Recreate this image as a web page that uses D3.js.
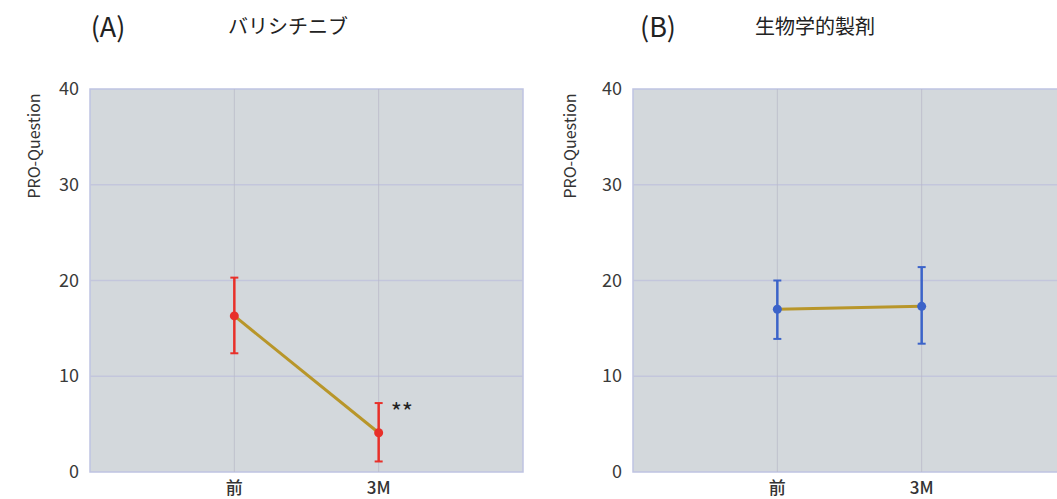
<!DOCTYPE html>
<html>
<head>
<meta charset="utf-8">
<script src="https://cdn.jsdelivr.net/npm/d3@7"></script>
<style>
  body { margin: 0; background: #fff; }
  text { font-family: "Noto Sans CJK JP", "Noto Sans", sans-serif; }
</style>
</head>
<body>
<div id="root"></div>
<script>
var width = 1057;
var height = 499;

// data
var categories = ['前', '3M'];
var yTicks = [0, 10, 20, 30, 40];
var meanA = [16.3, 4.1];
var upperA = [20.3, 7.2];
var lowerA = [12.4, 1.1];
var meanB = [17.0, 17.3];
var upperB = [20.0, 21.4];
var lowerB = [13.9, 13.4];

var svg = d3.select('#root')
    .append('svg')
    .attr('width', width).attr('height', height);

function drawPanel(opts) {
    var left = opts.left, top = 89, w = 433, h = 383;
    var g = svg.append('g').attr('transform', 'translate(' + left + ',' + top + ')');

    var xScale = d3.scaleLinear().domain([0, 3]).range([0, w]);
    var yScale = d3.scaleLinear().domain([0, 40]).range([h, 0]);

    g.append('rect')
        .attr('width', w).attr('height', h)
        .attr('fill', '#d3d8dc')
        .attr('stroke', '#bfc3e2').attr('stroke-width', 1.5);

    g.selectAll('.hgrid')
        .data(yTicks.slice(1, 4)).enter()
        .append('line')
        .attr('x1', 0).attr('x2', w)
        .attr('y1', function (d) { return yScale(d); })
        .attr('y2', function (d) { return yScale(d); })
        .attr('stroke', '#c3c6dc').attr('stroke-width', 1.5);

    g.selectAll('.vgrid')
        .data([1, 2]).enter()
        .append('line')
        .attr('x1', function (d) { return xScale(d); })
        .attr('x2', function (d) { return xScale(d); })
        .attr('y1', 0).attr('y2', h)
        .attr('stroke', '#b9bac8').attr('stroke-width', 0.8);

    // y tick labels
    g.selectAll('.ylab')
        .data(yTicks).enter()
        .append('text')
        .attr('x', -11)
        .attr('y', function (d) { return yScale(d) + 6; })
        .attr('text-anchor', 'end')
        .attr('font-family', '"Open Sans", sans-serif')
        .attr('font-size', 18)
        .attr('fill', '#3a3a3a')
        .text(function (d) { return d; });

    // x tick labels
    g.selectAll('.xlab')
        .data(categories).enter()
        .append('text')
        .attr('x', function (d, i) { return xScale(i + 1); })
        .attr('y', h + 22)
        .attr('text-anchor', 'middle')
        .attr('font-size', 17)
        .attr('font-weight', 500)
        .attr('fill', '#333')
        .text(function (d) { return d; });

    // y axis title
    g.append('text')
        .attr('transform', 'translate(' + opts.titleX + ',57) rotate(-90)')
        .attr('text-anchor', 'middle')
        .attr('font-family', '"Liberation Sans Narrow", "DejaVu Sans Condensed", sans-serif')
        .attr('font-size', 16)
        .attr('fill', '#333')
        .text('PRO-Question');

    var mean = opts.mean, upper = opts.upper, lower = opts.lower;
    var idx = d3.range(categories.length);

    var line = d3.line()
        .x(function (i) { return xScale(i + 1); })
        .y(function (i) { return yScale(mean[i]); });
    g.append('path')
        .datum(idx)
        .attr('d', line)
        .attr('fill', 'none')
        .attr('stroke', '#b8962a')
        .attr('stroke-width', 3);

    idx.forEach(function (i) {
        var cx = xScale(i + 1);
        g.append('line')
            .attr('x1', cx).attr('x2', cx)
            .attr('y1', yScale(upper[i])).attr('y2', yScale(lower[i]))
            .attr('stroke', opts.color).attr('stroke-width', 2.5);
        [upper[i], lower[i]].forEach(function (v) {
            g.append('line')
                .attr('x1', cx - 4).attr('x2', cx + 4)
                .attr('y1', yScale(v)).attr('y2', yScale(v))
                .attr('stroke', opts.color).attr('stroke-width', 2);
        });
        g.append('circle')
            .attr('cx', cx).attr('cy', yScale(mean[i]))
            .attr('r', 4.5)
            .attr('fill', opts.color);
    });

    if (opts.star) {
        g.append('text')
            .attr('x', xScale(2) + 12)
            .attr('y', yScale(upper[1]) + 18)
            .attr('font-family', '"DejaVu Sans", sans-serif')
            .attr('font-size', 24)
            .attr('fill', '#222')
            .text('**');
    }

    svg.append('text')
        .attr('x', opts.labelX).attr('y', 37)
        .attr('text-anchor', 'middle')
        .attr('font-family', '"Open Sans", sans-serif')
        .attr('font-size', 27)
        .attr('fill', '#222')
        .text(opts.label);
    svg.append('text')
        .attr('x', opts.nameX).attr('y', 34)
        .attr('text-anchor', 'middle')
        .attr('font-size', 20)
        .attr('fill', '#222')
        .text(opts.name);
}

drawPanel({ left: 90, mean: meanA, upper: upperA, lower: lowerA, color: '#e8302a',
    star: true, titleX: -50, label: '(A)', labelX: 108, name: 'バリシチニブ', nameX: 288 });
drawPanel({ left: 633, mean: meanB, upper: upperB, lower: lowerB, color: '#3b63c9',
    star: false, titleX: -57, label: '(B)', labelX: 658, name: '生物学的製剤', nameX: 815 });
</script>
</body>
</html>
